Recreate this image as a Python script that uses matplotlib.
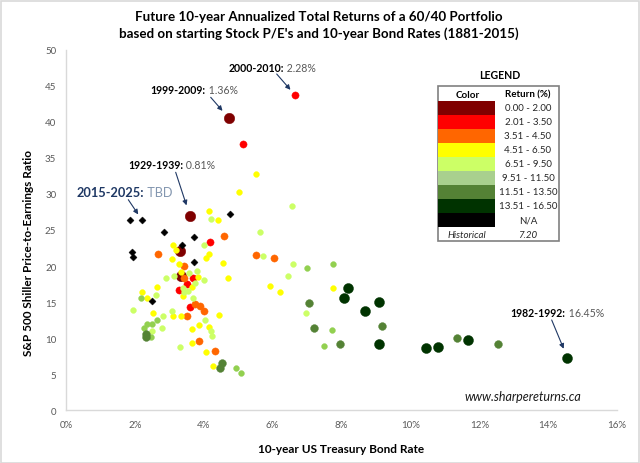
import matplotlib
matplotlib.use("Agg")
import matplotlib.pyplot as plt
from matplotlib.patches import Rectangle
from matplotlib.lines import Line2D

# ---------------- data (bond rate %, Shiller P/E) ----------------
darkred_x = [4.73, 3.60, 3.31, 3.33]
darkred_y = [40.5, 26.95, 22.06, 18.64]

red_x = [6.65, 5.15, 4.18, 3.70, 3.51, 3.28, 3.60]
red_y = [43.71, 36.98, 23.27, 18.32, 17.45, 16.66, 14.38]

orange_x = [4.60, 2.67, 3.43, 3.44, 5.52, 6.03, 3.74, 3.89, 4.00, 3.50, 3.85, 4.33]
orange_y = [24.10, 21.61, 20.03, 18.32, 21.55, 21.09, 14.72, 14.49, 13.82, 13.02, 9.60, 8.17]

yellow_x = [5.52, 5.03, 4.14, 4.40, 3.10, 3.18, 4.15, 4.07, 3.09, 3.29, 4.55, 3.33,
            3.82, 4.70, 3.65, 2.63, 2.20, 3.39, 2.36, 5.93, 6.21, 2.54, 3.11, 3.33,
            4.44, 3.85, 4.15, 3.66, 3.66, 4.06, 4.28, 7.76]
yellow_y = [32.77, 30.24, 27.60, 26.45, 22.89, 22.24, 21.61, 21.14, 20.91, 20.26, 20.40, 19.20,
            18.46, 18.28, 17.12, 17.04, 16.36, 15.87, 15.55, 17.26, 16.43, 13.52, 13.02, 13.13,
            13.16, 11.88, 11.59, 11.26, 9.32, 8.07, 6.18, 16.98]

lime_x = [6.56, 4.21, 5.64, 4.02, 5.73, 6.59, 6.44, 3.58, 3.80, 2.89, 3.13, 4.01, 3.74,
          3.40, 3.55, 3.43, 3.70, 2.61, 1.94, 3.07, 2.83, 4.03, 2.79, 2.50, 4.21, 4.24,
          3.30, 6.97]
lime_y = [28.34, 26.54, 24.74, 22.89, 21.41, 20.30, 18.64, 19.06, 19.25, 18.28, 18.60, 18.01, 17.63,
          16.90, 16.52, 16.34, 15.62, 15.97, 13.85, 13.80, 13.02, 12.53, 11.44, 11.05, 10.94, 10.29,
          8.73, 13.52]

midgreen_x = [2.17, 2.65, 2.34, 2.49, 2.26, 2.46, 4.94, 5.07, 7.01, 7.76, 7.72, 7.48]
midgreen_y = [15.55, 12.55, 11.99, 11.99, 11.44, 10.11, 5.90, 5.17, 19.71, 20.22, 11.16, 8.95]

darkgreen_x = [2.31, 2.31, 4.52, 4.47, 7.05, 7.20, 9.17, 7.95, 11.36, 12.54]
darkgreen_y = [10.60, 10.11, 6.55, 5.90, 14.90, 11.40, 11.63, 9.22, 10.01, 9.22]

darkest_x = [8.19, 8.07, 8.67, 9.08, 9.09, 10.44, 10.79, 11.67, 14.56]
darkest_y = [16.90, 15.55, 13.80, 14.96, 9.18, 8.63, 8.77, 9.78, 7.29]

na_x = [1.87, 2.21, 2.85, 3.72, 4.75, 3.38, 1.91, 1.95, 3.72, 2.51]
na_y = [26.45, 26.36, 24.74, 24.07, 27.15, 22.94, 21.97, 21.19, 20.54, 15.14]

x_ticks = [0, 2, 4, 6, 8, 10, 12, 14, 16]
y_ticks = [0, 5, 10, 15, 20, 25, 30, 35, 40, 45, 50]

legend_labels = ["0.00 - 2.00", "2.01 - 3.50", "3.51 - 4.50", "4.51 - 6.50", "6.51 - 9.50",
                 "9.51 - 11.50", "11.51 - 13.50", "13.51 - 16.50", "N/A"]
legend_colors = ["#800000", "#FF0000", "#FF6600", "#FFFF00", "#CCFF66",
                 "#A9D08E", "#548235", "#003300", "#000000"]
historical_value = "7.20"

# ---------------- figure ----------------
plt.rcParams['font.family'] = ['Lato', 'DejaVu Sans']
W, H = 640, 464
fig = plt.figure(figsize=(W / 100, H / 100), dpi=100)
fig.patch.set_facecolor('white')

def FP(x, y):
    return (x / W, 1 - y / H)

fig.add_artist(Rectangle((0.5 / W, 0.5 / H), (W - 1.5) / W, (H - 2) / H, transform=fig.transFigure,
                         fill=False, edgecolor='#D9D9D9', lw=1.2))

ax_l, ax_r, ax_t, ax_b = 66, 617, 50.7, 411.3
ax = fig.add_axes([ax_l / W, 1 - ax_b / H, (ax_r - ax_l) / W, (ax_b - ax_t) / H])
ax.set_xlim(0, 16)
ax.set_ylim(0, 50)
for s in ['top', 'right']:
    ax.spines[s].set_visible(False)
for s in ['left', 'bottom']:
    ax.spines[s].set_color('#D9D9D9')
    ax.spines[s].set_linewidth(1.0)
ax.set_xticks(x_ticks)
ax.set_xticklabels([f"{t}%" for t in x_ticks])
ax.set_yticks(y_ticks)
ax.set_yticklabels([str(t) for t in y_ticks])
ax.tick_params(axis='both', length=0, labelsize=7, colors='#595959')
ax.tick_params(axis='y', pad=7)
ax.tick_params(axis='x', pad=7)

def px2pt(d):
    return d * 0.72

series = [
    (darkred_x, darkred_y, '#7F0000', 'o', 10.5),
    (red_x, red_y, '#FF0000', 'o', 7.2),
    (orange_x, orange_y, '#FF6600', 'o', 7.2),
    (yellow_x, yellow_y, '#FFFF00', 'o', 5.8),
    (lime_x, lime_y, '#CCFF66', 'o', 5.8),
    (midgreen_x, midgreen_y, '#92D050', 'o', 5.8),
    (darkgreen_x, darkgreen_y, '#548235', 'o', 7.8),
    (darkest_x, darkest_y, '#003300', 'o', 10.0),
    (na_x, na_y, '#000000', 'D', 5.0),
]
for xs, ys, c, m, d in series:
    ax.plot(xs, ys, linestyle='none', marker=m, markersize=px2pt(d),
            markerfacecolor=c, markeredgecolor=c, markeredgewidth=0.3)

# ---------------- titles / labels ----------------
fig.text(*FP(319, 16.7), "Future 10-year Annualized Total Returns of a 60/40 Portfolio",
         ha='center', va='center', fontsize=9.6, fontweight='bold', color='#000000')
fig.text(*FP(319, 33.3), "based on starting Stock P/E's and 10-year Bond Rates (1881-2015)",
         ha='center', va='center', fontsize=9.6, fontweight='bold', color='#000000')
fig.text(*FP(29, 252.5), "S&P 500 Shiller Price-to-Earnings Ratio", rotation=90,
         ha='center', va='center', fontsize=8.5, fontweight='bold', color='#000000')
fig.text(*FP(341, 449.3), "10-year US Treasury Bond Rate",
         ha='center', va='center', fontsize=8.5, fontweight='bold', color='#000000')
fig.text(*FP(523, 397.3), "www.sharpereturns.ca", ha='center', va='center',
         fontsize=9, style='italic', color='#1a1a1a')

# ---------------- annotations ----------------
arrow_c = '#1F3864'

def label(x, y, bold_txt, val_txt, size=7.6, bcol='#000000', vcol='#595959'):
    t1 = fig.text(*FP(x, y), bold_txt, ha='left', va='center', fontsize=size,
                  fontweight='bold', color=bcol)
    fig.canvas.draw()
    bb = t1.get_window_extent()
    fig.text(bb.x1 / W, 1 - y / H, val_txt, ha='left', va='center', fontsize=size, color=vcol)

def arrow(px0, py0, xd, yd, shrink=5):
    ax.annotate('', xy=(xd, yd), xycoords='data', xytext=(px0, H - py0), textcoords='figure pixels',
                arrowprops=dict(arrowstyle='-|>', color=arrow_c, lw=0.8, shrinkA=0, shrinkB=shrink,
                                mutation_scale=7))

label(229, 69, "2000-2010:", " 2.28%")
arrow(276.7, 75, red_x[0], red_y[0], 5)
label(150.7, 90.3, "1999-2009:", " 1.36%")
arrow(210.7, 98.3, darkred_x[0], darkred_y[0], 7)
label(128.3, 165.3, "1929-1939:", " 0.81%")
arrow(175.7, 173.3, darkred_x[1], darkred_y[1], 8)
label(76.7, 192.7, "2015-2025:", " TBD", size=9.2, bcol='#1F3864', vcol='#8497B0')
arrow(128.3, 200.7, na_x[1], na_y[1], 5)
label(510.7, 313.3, "1982-1992:", " 16.45%")
arrow(551.7, 321, darkest_x[-1], darkest_y[-1], 7)

# ---------------- legend table ----------------
L, R, T, B = 438.3, 559.3, 87.3, 242.0
lax = fig.add_axes([L / W, 1 - B / H, (R - L) / W, (B - T) / H])
lax.set_xlim(L, R)
lax.set_ylim(B, T)
lax.axis('off')
lax.add_patch(Rectangle((L, T), R - L, B - T, fill=False, edgecolor='#808080', lw=1.2, clip_on=False))
fig.text(*FP(499.3, 76), "LEGEND", ha='center', va='center', fontsize=7.6, fontweight='bold')
lax.text(467.3, 95, "Color", ha='center', va='center', fontsize=7, fontweight='bold')
lax.text(528, 95, "Return (%)", ha='center', va='center', fontsize=7, fontweight='bold')
row_top = 101.7
row_h = 14.0
for i, (lab, col) in enumerate(zip(legend_labels, legend_colors)):
    y0 = row_top + i * row_h
    lax.add_patch(Rectangle((L, y0), 495.3 - L, row_h, facecolor=col, edgecolor='none'))
    lax.text(528, y0 + row_h / 2, lab, ha='center', va='center', fontsize=7, color='#262626')
lax.text(467.3, 235.2, "Historical", ha='center', va='center', fontsize=7, style='italic', color='#262626')
lax.text(528, 235.2, historical_value, ha='center', va='center', fontsize=7, style='italic', color='#262626')

fig.savefig("out.png", dpi=100)
